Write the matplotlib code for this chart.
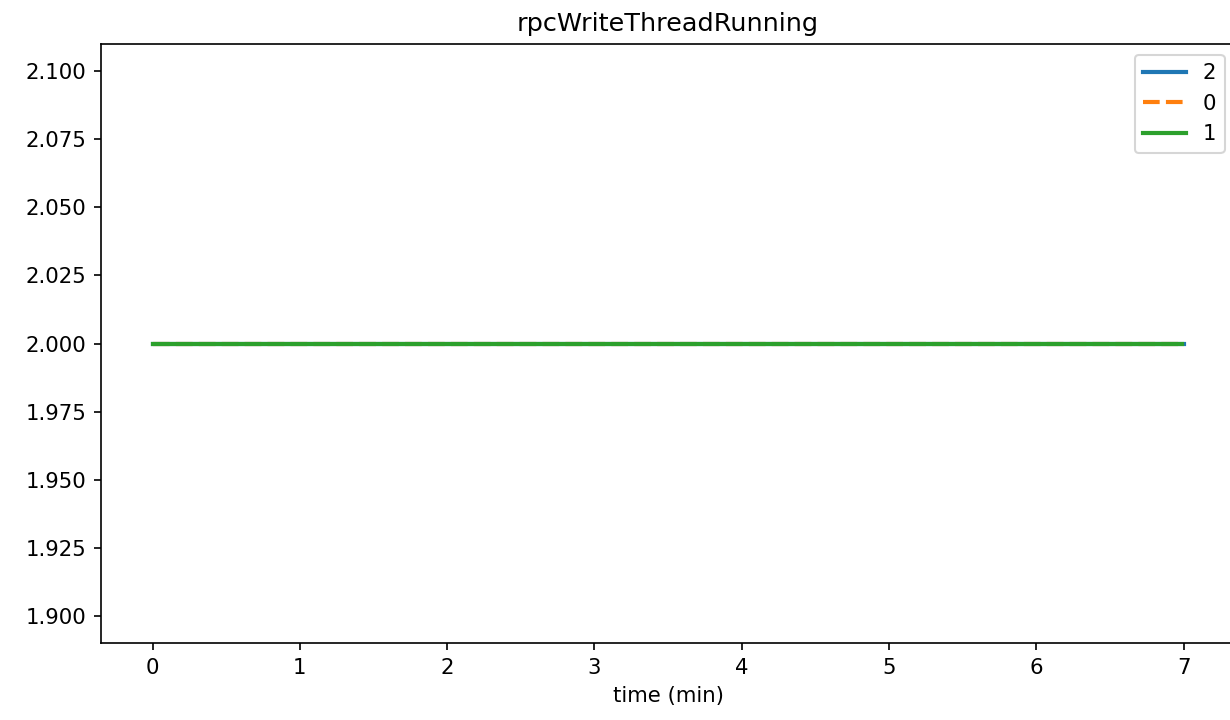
import matplotlib
matplotlib.use("Agg")
import matplotlib.pyplot as plt

plt.rcParams["font.size"] = 10.2

# time in minutes for each sample, per node
series_names = ["2", "0", "1"]
series_times = [
    [0.0, 0.5, 1.0, 1.5, 2.0, 2.5, 3.0, 3.5, 4.0, 4.5, 5.0, 5.5, 6.0, 6.5, 7.0],
    [0.0, 0.5, 1.0, 1.5, 2.0, 2.5, 3.0, 3.5, 4.0, 4.5, 5.0, 5.5, 6.0, 6.5, 6.99],
    [0.0, 0.5, 1.0, 1.5, 2.0, 2.5, 3.0, 3.5, 4.0, 4.5, 5.0, 5.5, 6.0, 6.5, 6.99],
]
# rpcWriteThreadRunning per node
series_values = [
    [2, 2, 2, 2, 2, 2, 2, 2, 2, 2, 2, 2, 2, 2, 2],
    [2, 2, 2, 2, 2, 2, 2, 2, 2, 2, 2, 2, 2, 2, 2],
    [2, 2, 2, 2, 2, 2, 2, 2, 2, 2, 2, 2, 2, 2, 2],
]
colors = ["#1f77b4", "#ff7f0e", "#2ca02c"]
dashes = [(), (4, 1.5), ()]

fig = plt.figure(figsize=(8.2, 4.8), dpi=150)
# axes runs slightly past the right edge, as in the original
ax = fig.add_axes([0.0821, 0.1069, 0.9222, 0.832])

for t, vals, name, c, d in zip(series_times, series_values, series_names, colors, dashes):
    line, = ax.plot(t, vals, color=c, lw=2, label=name)
    if d:
        line.set_dashes(d)

ax.set_title("rpcWriteThreadRunning")
ax.set_xlabel("time (min)")
ax.set_xlim(-0.35, 7.35)
ax.legend(loc="upper right")

fig.savefig("out.png", dpi=150)
